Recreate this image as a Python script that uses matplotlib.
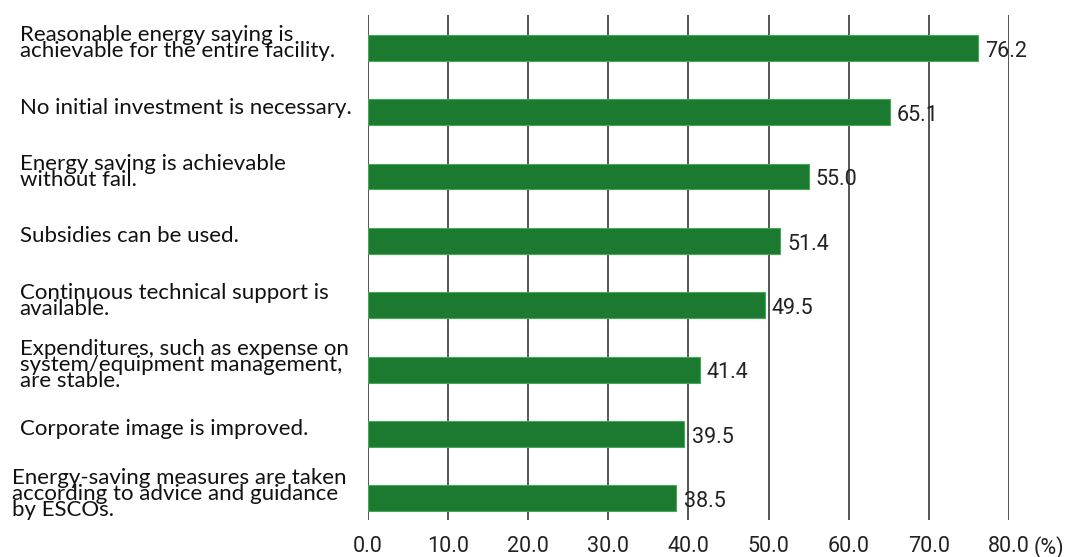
import matplotlib
matplotlib.use("Agg")
import matplotlib.pyplot as plt
import numpy as np

labels = [
    "Reasonable energy saving is\nachievable for the entire facility.",
    "No initial investment is necessary.",
    "Energy saving is achievable\nwithout fail.",
    "Subsidies can be used.",
    "Continuous technical support is\navailable.",
    "Expenditures, such as expense on\nsystem/equipment management,\nare stable.",
    "Corporate image is improved.",
    "Energy-saving measures are taken\naccording to advice and guidance\nby ESCOs.",
]
values = [76.2, 65.1, 55.0, 51.4, 49.5, 41.4, 39.5, 38.5]
ticks = [0, 10, 20, 30, 40, 50, 60, 70, 80]
tick_labels = ["0.0", "10.0", "20.0", "30.0", "40.0", "50.0", "60.0", "70.0", "80.0"]

num_font = ["Roboto", "DejaVu Sans"]
lab_font = ["Lato", "DejaVu Sans"]

fig = plt.figure(figsize=(10.67, 5.57), dpi=100)
ax = fig.add_axes([0.345, 0.066, 0.6005, 0.907])

y = np.arange(len(values))
ax.barh(y, values, height=0.40, color="#1b7a30", edgecolor="#45a853",
        linewidth=0.8, zorder=3)

for xv in ticks:
    ax.axvline(xv, color="#555555", linewidth=1.4, zorder=1)

for yi, v in zip(y, values):
    ax.text(v + 0.9, yi + 0.05, f"{v:.1f}", va="center", ha="left",
            fontsize=15.5, color="#222222", family=num_font, zorder=4)

# left-aligned category labels (last one sits a bit further left)
for yi, lab in zip(y, labels):
    x0 = -44.5 if yi == len(values) - 1 else -43.5
    ax.text(x0, yi - 0.07, lab, va="center", ha="left", fontsize=16,
            color="#111111", family=lab_font, linespacing=0.74,
            clip_on=False)

ax.set_xlim(0, 80)
ax.set_ylim(len(values) - 1 + 0.34, -0.51)
ax.set_xticks(ticks)
ax.set_xticklabels(tick_labels, family=num_font, fontsize=15.5, color="#222222")
ax.tick_params(axis="x", length=0, pad=11)
ax.set_yticks([])
for s in ax.spines.values():
    s.set_visible(False)

ax.annotate("(%)", xy=(80, 0), xycoords=ax.get_xaxis_transform(),
            xytext=(18, -11), textcoords="offset points", ha="left", va="top",
            family=num_font, fontsize=15.5, color="#222222")

fig.savefig("out.png", dpi=100)
